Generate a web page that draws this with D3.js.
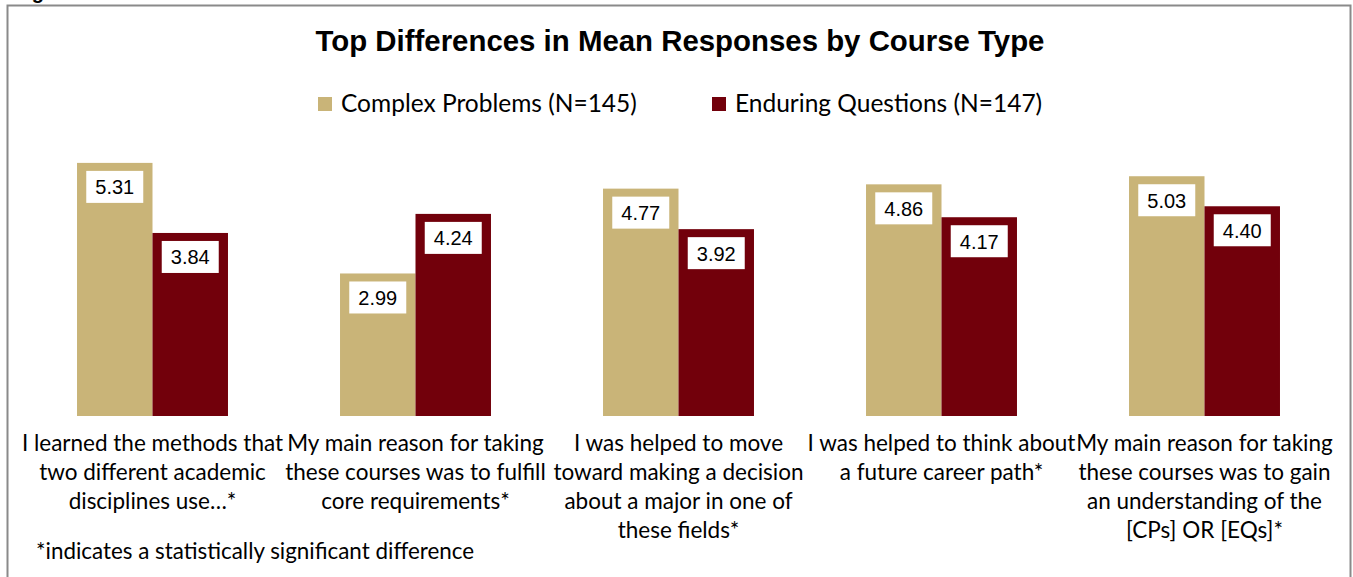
<!DOCTYPE html>
<html>
<head>
<meta charset="utf-8">
<script src="https://cdn.jsdelivr.net/npm/d3@7"></script>
<style>
  html, body { margin: 0; padding: 0; background: #fff; }
  svg { display: block; }
</style>
</head>
<body>
<svg id="chart" width="1353" height="577"></svg>
<script>
// Survey items (wrapped as displayed under each group)
const categories = [
  ["I learned the methods that", "two different academic", "disciplines use…*"],
  ["My main reason for taking", "these courses was to fulfill", "core requirements*"],
  ["I was helped to move", "toward making a decision", "about a major in one of", "these fields*"],
  ["I was helped to think about", "a future career path*"],
  ["My main reason for taking", "these courses was to gain", "an understanding of the", "[CPs] OR [EQs]*"]
];
const seriesNames = ["Complex Problems (N=145)", "Enduring Questions (N=147)"];
const complexProblems = [5.31, 2.99, 4.77, 4.86, 5.03];
const enduringQuestions = [3.84, 4.24, 3.92, 4.17, 4.40];
const seriesColors = ["#C9B478", "#72000B"];
const yDomain = [0, 6];

const svg = d3.select("#chart");

// outer frame
svg.append("rect")
  .attr("x", 7.5).attr("y", 5.5)
  .attr("width", 1343).attr("height", 600)
  .attr("fill", "none").attr("stroke", "#8a8a8a").attr("stroke-width", 2);

// caption above the frame (runs off the top edge)
svg.append("text")
  .attr("x", 14).attr("y", -1)
  .attr("font-family", "Liberation Sans, Arial, sans-serif")
  .attr("font-weight", "bold").attr("font-size", 20)
  .text("Figure");

// title
svg.append("text")
  .attr("x", 680).attr("y", 51)
  .attr("text-anchor", "middle")
  .attr("font-family", "Liberation Sans, Arial, sans-serif")
  .attr("font-weight", "bold").attr("font-size", 29.4)
  .attr("fill", "#000")
  .text("Top Differences in Mean Responses by Course Type");

// legend
const legendX = [318, 712];
const legend = svg.append("g");
seriesNames.forEach((name, i) => {
  legend.append("rect")
    .attr("x", legendX[i]).attr("y", 97)
    .attr("width", 14).attr("height", 14)
    .attr("fill", seriesColors[i]);
  legend.append("text")
    .attr("x", legendX[i] + 23).attr("y", 112)
    .attr("font-family", "Lato, Carlito, Calibri, sans-serif")
    .attr("font-size", 24.5)
    .attr("fill", "#000")
    .text(name);
});

// scales
const x0 = d3.scaleBand()
  .domain(d3.range(categories.length))
  .range([21, 1336])
  .paddingInner(0).paddingOuter(0);

const groupFrac = 0.574;
const bw0 = x0.bandwidth();
const x1 = d3.scaleBand()
  .domain(d3.range(seriesNames.length))
  .range([bw0 * (1 - groupFrac) / 2, bw0 * (1 + groupFrac) / 2]);

const y = d3.scaleLinear().domain(yDomain).range([416, 130]);

const rows = categories.map((c, i) => ({
  i, lines: c, values: [complexProblems[i], enduringQuestions[i]]
}));

const groups = svg.append("g").selectAll("g")
  .data(rows).join("g")
  .attr("transform", d => `translate(${x0(d.i)},0)`);

// bars
groups.selectAll("rect.bar")
  .data(d => d.values.map((v, s) => ({ v, s })))
  .join("rect")
  .attr("class", "bar")
  .attr("x", d => x1(d.s))
  .attr("y", d => y(d.v))
  .attr("width", x1.bandwidth())
  .attr("height", d => y(0) - y(d.v))
  .attr("fill", d => seriesColors[d.s]);

// value labels in white boxes
const boxW = 57, boxH = 32, boxGap = 8;
const labels = groups.selectAll("g.lbl")
  .data(d => d.values.map((v, s) => ({ v, s })))
  .join("g")
  .attr("class", "lbl")
  .attr("transform", d => `translate(${x1(d.s) + x1.bandwidth() / 2},${y(d.v) + boxGap})`);

labels.append("rect")
  .attr("x", -boxW / 2).attr("y", 0)
  .attr("width", boxW).attr("height", boxH)
  .attr("fill", "#fff");

labels.append("text")
  .attr("x", 0).attr("y", 23.5)
  .attr("text-anchor", "middle")
  .attr("font-family", "Liberation Sans, Arial, sans-serif")
  .attr("font-size", 20)
  .attr("fill", "#000")
  .text(d => d.v.toFixed(2));

// category labels
const lineH = 29;
groups.append("text")
  .attr("text-anchor", "middle")
  .attr("font-family", "Lato, Carlito, Calibri, sans-serif")
  .attr("font-size", 22.5)
  .attr("fill", "#000")
  .selectAll("tspan")
  .data(d => d.lines)
  .join("tspan")
  .attr("x", bw0 / 2)
  .attr("y", (d, k) => 451 + k * lineH)
  .text(d => d);

// footnote
svg.append("text")
  .attr("x", 36).attr("y", 559)
  .attr("font-family", "Lato, Carlito, Calibri, sans-serif")
  .attr("font-size", 22.4)
  .attr("fill", "#000")
  .text("*indicates a statistically significant difference");
</script>
</body>
</html>
